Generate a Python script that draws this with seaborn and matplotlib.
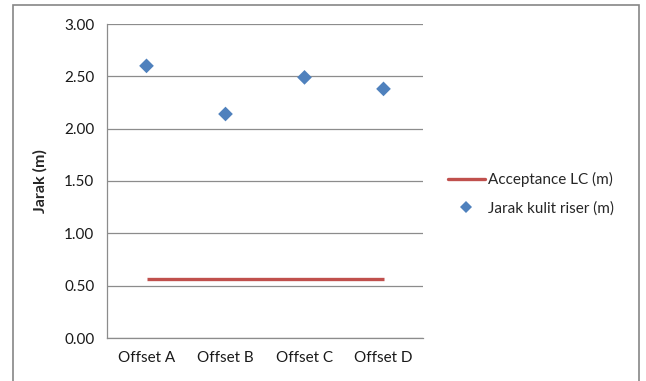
import matplotlib
matplotlib.use("Agg")
import matplotlib.pyplot as plt
from matplotlib.lines import Line2D
from matplotlib.patches import Rectangle
import seaborn as sns
import pandas as pd

# Data
offsets = ["Offset A", "Offset B", "Offset C", "Offset D"]
jarak_kulit_riser = [2.60, 2.14, 2.49, 2.38]
acceptance_lc = [0.56, 0.56, 0.56, 0.56]
y_ticks = [0.00, 0.50, 1.00, 1.50, 2.00, 2.50, 3.00]

BLUE = "#4F81BD"
RED = "#C0504D"
GRID = "#8C8C8C"
FS = 11

sns.set_theme(style="white")
plt.rcParams["font.family"] = ["Lato", "DejaVu Sans"]

df = pd.DataFrame({
    "x": range(len(offsets)),
    "offset": offsets,
    "jarak": jarak_kulit_riser,
    "acc": acceptance_lc,
})

fig = plt.figure(figsize=(6.46, 3.81), dpi=100)
ax = fig.add_axes([107 / 646, 1 - 338 / 381, (423 - 107) / 646, (338 - 24) / 381])

sns.lineplot(data=df, x="x", y="acc", color=RED, linewidth=2.4, ax=ax,
             legend=False, solid_capstyle="butt")
sns.scatterplot(data=df, x="x", y="jarak", color=BLUE, marker="D", s=56,
                edgecolor="none", ax=ax, legend=False)

ax.set_xlim(-0.5, len(offsets) - 0.5)
ax.set_ylim(0, 3.0)
ax.set_yticks(y_ticks)
ax.set_yticklabels([f"{v:.2f}" for v in y_ticks], fontsize=FS, color="#1a1a1a")
ax.set_xticks(range(len(offsets)))
ax.set_xticklabels(offsets, fontsize=FS, color="#1a1a1a")
ax.set_xticks([i - 0.5 for i in range(len(offsets) + 1)], minor=True)
ax.tick_params(axis="x", which="major", length=0, pad=9)
ax.tick_params(axis="x", which="minor", length=5, width=0.9, color=GRID, direction="out")
ax.tick_params(axis="y", which="major", length=4, width=0.9, color=GRID, direction="out", pad=5)
ax.yaxis.grid(True, color=GRID, linewidth=0.9)
ax.set_axisbelow(True)
ax.set_xlabel("")
ax.set_ylabel("Jarak (m)", fontsize=11.5, fontweight="bold", labelpad=12)

for side in ["top", "right"]:
    ax.spines[side].set_visible(False)
ax.spines["left"].set_color(GRID)
ax.spines["bottom"].set_color(GRID)
ax.spines["left"].set_linewidth(0.9)
ax.spines["bottom"].set_linewidth(0.9)

handles = [
    Line2D([], [], color=RED, linewidth=2.4),
    Line2D([], [], color=BLUE, marker="D", linestyle="none", markersize=6,
           markeredgewidth=0),
]
fig.legend(handles, ["Acceptance LC (m)", "Jarak kulit riser (m)"],
           loc="center left", bbox_to_anchor=(448 / 646, 1 - 194 / 381),
           frameon=False, fontsize=FS, handlelength=2.4, handletextpad=0.2,
           labelspacing=0.9, borderpad=0, borderaxespad=0)

# Chart frame
fig.patches.append(Rectangle((13 / 646, -0.05), (639 - 13) / 646, 1.05 - 5 / 381,
                             transform=fig.transFigure, fill=False,
                             edgecolor="#868686", linewidth=1.2))

fig.savefig("out.png", dpi=100)
